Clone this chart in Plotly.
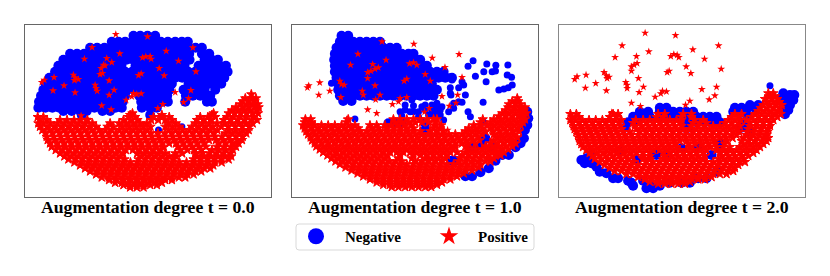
import plotly.graph_objects as go

# values, in panel units: (row y, [x, x, ...])
NEG_0_ROWS = [
    (62, [355, 375, 397, 420]),
    (80, [290, 310, 330, 352, 372, 395, 415, 437, 458, 480, 500, 518]),
    (98, [225, 246, 268, 289, 310, 331, 352, 373, 394, 415, 436, 457, 478, 499, 520, 541, 560]),
    (116, [165, 186, 207, 228, 249, 270, 291, 312, 333, 354, 375, 396, 417, 438, 459, 480, 501, 522, 560, 582]),
    (134, [145, 166, 187, 208, 229, 250, 271, 292, 313, 334, 355, 376, 397, 418, 439, 460, 481, 502, 523, 568, 590, 608]),
    (152, [130, 151, 172, 193, 214, 235, 256, 277, 298, 319, 361, 382, 403, 424, 445, 466, 487, 508, 550, 571, 592, 613, 632]),
    (170, [120, 141, 162, 183, 204, 225, 246, 267, 288, 309, 330, 351, 372, 393, 414, 435, 456, 477, 498, 519, 540, 561, 582, 603, 624, 637]),
    (188, [103, 124, 145, 166, 187, 208, 229, 250, 270, 291, 312, 333, 354, 375, 396, 417, 438, 459, 480, 501, 522, 543, 564, 585, 606, 627]),
    (206, [92, 113, 134, 155, 176, 197, 218, 239, 260, 281, 302, 323, 344, 365, 386, 407, 428, 449, 470, 520, 541, 562, 583, 604, 618]),
    (224, [85, 106, 127, 148, 169, 190, 211, 232, 253, 274, 295, 316, 337, 358, 379, 400, 421, 442, 463, 505, 526, 547, 568, 600]),
    (242, [78, 99, 120, 141, 162, 183, 204, 225, 246, 267, 288, 309, 330, 372, 393, 414, 435, 456, 512, 533, 555, 570, 585]),
    (260, [72, 93, 114, 135, 155, 176, 197, 218, 239, 260, 281, 302, 323, 378, 399, 420, 441, 458, 510, 575, 590]),
    (278, [70, 91, 112, 133, 154, 175, 196, 217, 238, 259, 280, 301, 320, 380, 405, 425]),
    (288, [145, 170, 195, 215, 262, 285]),
    (300, [200, 405]),
]
NEG_0_X = [430, 500]
NEG_0_Y = [345, 335]
POS_0_ROWS = [
    (238, [708]),
    (250, [690, 710, 722]),
    (259, [682, 700, 718]),
    (268, [675, 695, 712, 727]),
    (277, [662, 682, 700, 718, 730]),
    (286, [650, 668, 686, 704, 725]),
    (295, [352, 595, 640, 658, 676, 694, 712, 728]),
    (300, [345, 440, 590]),
    (306, [68, 85, 340, 360, 415, 440, 462, 555, 578, 600, 635, 655, 675, 695, 715]),
    (315, [75, 96, 135, 156, 177, 197, 217, 325, 346, 367, 408, 429, 450, 471, 545, 566, 587, 625, 646, 667, 688, 709, 725]),
    (325, [70, 85, 106, 127, 148, 169, 190, 210, 232, 285, 312, 333, 354, 375, 395, 460, 482, 540, 561, 582, 605, 628, 650, 671, 692, 712]),
    (335, [75, 96, 117, 138, 159, 180, 201, 222, 243, 277, 295, 322, 343, 364, 385, 406, 450, 471, 492, 530, 551, 572, 593, 618, 639, 660, 681, 702]),
    (345, [82, 104, 125, 146, 167, 188, 209, 230, 252, 270, 290, 312, 333, 354, 375, 396, 460, 481, 502, 522, 543, 564, 585, 606, 640, 661, 682, 700]),
    (355, [92, 113, 134, 155, 176, 197, 218, 239, 260, 281, 302, 323, 344, 365, 386, 407, 428, 449, 470, 491, 512, 533, 554, 575, 596, 630, 651, 672, 693]),
    (365, [95, 116, 137, 158, 179, 200, 221, 242, 263, 284, 305, 326, 347, 368, 389, 410, 431, 452, 473, 494, 515, 536, 557, 578, 599, 620, 641, 662, 682]),
    (375, [98, 119, 140, 161, 182, 203, 224, 245, 266, 287, 308, 329, 350, 371, 392, 413, 434, 455, 476, 497, 518, 539, 560, 581, 602, 623, 644, 665, 680]),
    (385, [105, 126, 147, 168, 189, 210, 231, 252, 273, 294, 315, 336, 357, 378, 399, 420, 441, 462, 483, 504, 525, 546, 567, 610, 631, 652, 670]),
    (395, [110, 131, 152, 173, 194, 215, 236, 257, 278, 299, 320, 341, 362, 383, 404, 425, 446, 488, 509, 530, 551, 572, 605, 626, 647, 662]),
    (405, [122, 143, 164, 185, 206, 227, 248, 269, 290, 311, 332, 353, 374, 395, 416, 437, 495, 516, 537, 558, 590, 611, 632, 653]),
    (415, [135, 156, 177, 198, 219, 240, 261, 282, 303, 324, 366, 387, 408, 429, 450, 480, 501, 540, 561, 582, 603, 624, 645]),
    (424, [148, 169, 190, 211, 232, 253, 274, 295, 316, 378, 399, 420, 441, 462, 483, 545, 566, 587, 608, 629, 648]),
    (433, [160, 181, 202, 223, 244, 265, 286, 307, 328, 370, 391, 412, 433, 454, 475, 535, 556, 577, 598, 619, 640]),
    (442, [178, 199, 220, 241, 262, 283, 304, 325, 346, 367, 388, 409, 430, 451, 472, 493, 514, 535, 556, 577, 598, 619]),
    (451, [195, 216, 237, 258, 279, 300, 321, 342, 363, 384, 405, 426, 447, 468, 489, 510, 531, 552, 573, 594]),
    (460, [210, 231, 252, 273, 294, 315, 336, 357, 378, 399, 420, 441, 462, 483, 504, 525, 546, 567, 585]),
    (469, [225, 246, 267, 288, 309, 330, 351, 372, 393, 414, 435, 456, 477, 498, 519, 540, 558]),
    (478, [243, 264, 285, 306, 327, 348, 369, 390, 411, 432, 453, 474, 495, 516, 535]),
    (487, [260, 281, 302, 323, 344, 365, 386, 407, 428, 449, 470, 491, 510]),
    (495, [282, 303, 324, 345, 366, 387, 408, 429, 450, 470]),
    (503, [300, 320, 340, 360, 380, 400, 420, 440]),
    (510, [325, 345, 365, 385, 405, 425]),
    (517, [345, 365, 385]),
]
POS_0_X = [302, 397, 231, 533, 453, 314, 208, 275, 382, 392, 405, 408, 490, 290, 265, 270, 258, 432, 542, 262, 255, 378, 370, 447, 117, 88, 80, 175, 180, 190, 178, 282, 147, 240, 243, 246, 297, 114, 180, 282, 355, 350, 365, 378, 527, 480, 520, 505, 333, 260, 288, 443, 428, 198, 216]
POS_0_Y = [58, 65, 97, 98, 108, 116, 132, 130, 128, 125, 124, 132, 138, 142, 150, 152, 160, 160, 170, 175, 178, 176, 181, 182, 187, 195, 202, 180, 188, 193, 196, 197, 212, 210, 220, 228, 225, 227, 233, 240, 235, 245, 238, 236, 226, 232, 250, 262, 255, 272, 284, 268, 280, 302, 312]

NEG_1_ROWS = [
    (62, [170, 190]),
    (80, [165, 185, 205, 225, 245, 265, 285]),
    (98, [155, 175, 195, 215, 235, 255, 275, 295, 315, 335]),
    (116, [150, 170, 190, 210, 230, 250, 270, 290, 310, 330, 350, 370, 385]),
    (134, [148, 168, 188, 208, 228, 250, 270, 290, 310, 330, 350, 370, 390, 405]),
    (152, [150, 170, 190, 210, 230, 250, 270, 290, 310, 330, 350, 370, 390, 410, 425]),
    (170, [150, 170, 190, 210, 230, 250, 270, 290, 310, 330, 350, 370, 390, 410, 435, 455, 475]),
    (188, [155, 175, 195, 215, 235, 255, 275, 295, 315, 335, 355, 375, 395, 415, 435, 460, 480, 500]),
    (206, [160, 180, 200, 220, 240, 260, 280, 300, 320, 340, 360, 380, 400, 420, 440]),
    (224, [160, 180, 200, 220, 240, 260, 280, 300, 320, 340, 360, 380, 400, 420, 440, 455]),
    (242, [165, 185, 205, 225, 245, 265, 285, 305, 325, 345, 365, 385, 405, 425, 445]),
    (258, [175, 200]),
    (290, [725]),
    (310, [728]),
    (325, [310, 330, 350, 420]),
    (330, [725]),
    (345, [420, 718]),
    (370, [600, 715]),
    (385, [590, 705]),
    (397, [555, 570, 690, 620]),
    (420, [670, 650]),
    (437, [500, 510, 630]),
    (460, [610]),
    (472, [585]),
    (484, [560, 540]),
]
NEG_1_X = [563, 548, 604, 631, 667, 620, 630, 570, 595, 665, 678, 602, 530, 520, 495, 497, 540, 640, 655, 668, 680, 593, 520, 505, 548, 555, 595, 210, 380, 385, 360, 345, 375, 350, 400, 420, 440, 455, 470, 490, 465, 475, 430, 400, 450, 140, 490, 500, 535, 495, 530, 505, 420, 440, 455, 410, 385, 360, 450, 465, 440]
NEG_1_Y = [137, 154, 147, 151, 150, 170, 168, 184, 170, 180, 187, 200, 200, 218, 218, 240, 240, 225, 222, 218, 210, 262, 260, 280, 290, 305, 322, 312, 255, 272, 285, 290, 290, 302, 290, 270, 270, 265, 275, 290, 300, 315, 300, 305, 295, 205, 185, 195, 210, 235, 262, 265, 285, 285, 280, 275, 290, 270, 310, 285, 300]
POS_1_ROWS = [
    (250, [695]),
    (259, [680, 698]),
    (268, [670, 690, 705]),
    (277, [668, 688, 705, 718]),
    (286, [660, 680, 700, 715]),
    (295, [650, 670, 690, 708, 722]),
    (304, [640, 660, 680, 700, 715]),
    (313, [62, 78, 190, 325, 345, 365, 385, 405, 425, 445, 455, 592, 625, 645, 665, 685, 705, 718]),
    (322, [60, 80, 185, 330, 350, 370, 390, 410, 430, 450, 585, 615, 635, 655, 675, 695, 712]),
    (331, [55, 70, 90, 110, 130, 150, 170, 190, 210, 255, 275, 300, 318, 338, 358, 378, 450, 468, 565, 585, 605, 625, 645, 665, 685, 705]),
    (340, [60, 80, 100, 120, 140, 160, 180, 200, 220, 260, 280, 305, 325, 345, 365, 385, 445, 465, 550, 570, 590, 615, 635, 655, 675, 695]),
    (349, [65, 85, 105, 125, 145, 165, 185, 205, 225, 245, 265, 285, 305, 325, 345, 365, 385, 405, 435, 455, 475, 540, 560, 580, 600, 622, 642, 662, 682, 700]),
    (358, [70, 90, 110, 130, 150, 170, 190, 210, 230, 250, 270, 290, 310, 330, 350, 370, 390, 410, 430, 450, 470, 490, 510, 530, 550, 570, 590, 625, 645, 665, 685]),
    (367, [78, 98, 118, 138, 158, 178, 198, 218, 238, 258, 278, 298, 318, 338, 358, 378, 398, 418, 438, 458, 478, 498, 518, 538, 558, 578, 635, 655, 675, 695]),
    (376, [82, 102, 122, 142, 162, 182, 202, 222, 242, 262, 282, 302, 322, 342, 362, 382, 402, 422, 442, 462, 482, 502, 522, 542, 562, 582, 625, 645, 665, 685]),
    (385, [90, 110, 130, 150, 170, 190, 210, 230, 250, 270, 290, 310, 330, 350, 370, 390, 410, 430, 450, 470, 490, 510, 530, 550, 570, 615, 635, 655, 675, 690]),
    (394, [95, 115, 135, 155, 175, 195, 215, 235, 255, 275, 295, 315, 335, 355, 375, 395, 415, 435, 455, 475, 495, 510, 540, 600, 620, 640, 660, 680]),
    (403, [105, 125, 145, 165, 185, 205, 225, 245, 265, 285, 305, 325, 345, 365, 385, 405, 425, 445, 465, 485, 505, 550, 570, 590, 610, 630, 650, 668]),
    (412, [115, 135, 155, 175, 195, 215, 235, 255, 275, 295, 315, 335, 355, 375, 395, 415, 435, 455, 475, 495, 515, 540, 560, 580, 600, 620, 640, 655]),
    (421, [128, 148, 168, 188, 208, 228, 248, 268, 288, 308, 345, 385, 405, 425, 445, 465, 485, 530, 550, 570, 590, 610, 630, 645]),
    (430, [140, 160, 180, 200, 220, 240, 260, 280, 300, 340, 380, 420, 440, 460, 480, 525, 545, 565, 585, 605, 625]),
    (439, [152, 172, 192, 212, 232, 252, 272, 292, 312, 332, 350, 390, 410, 430, 450, 470, 520, 540, 560, 580, 600, 615]),
    (448, [165, 185, 205, 225, 245, 265, 285, 305, 325, 345, 365, 385, 405, 425, 445, 465, 485, 505, 525, 545, 565, 585]),
    (457, [182, 202, 222, 242, 262, 282, 302, 322, 342, 362, 382, 402, 422, 442, 462, 482, 502, 522, 542, 562, 580]),
    (466, [200, 220, 240, 260, 280, 300, 320, 340, 360, 380, 400, 420, 440, 460, 480, 500, 520, 540, 560]),
    (475, [218, 238, 258, 278, 298, 318, 338, 358, 378, 398, 418, 438, 458, 478, 498, 518, 535]),
    (484, [235, 255, 275, 295, 315, 335, 355, 375, 395, 415, 435, 455, 475, 495, 515]),
    (493, [255, 275, 295, 315, 335, 355, 375, 395, 415, 435, 455, 475, 495]),
    (502, [275, 295, 315, 335, 355, 375, 395, 415, 435, 455, 470]),
    (509, [295, 315, 335, 355, 375, 395, 415, 435, 455]),
    (516, [320, 340, 360, 380, 400, 420, 438]),
]
POS_1_X = [386, 521, 441, 291, 219, 303, 197, 263, 373, 385, 395, 479, 280, 270, 258, 248, 420, 530, 435, 365, 357, 248, 72, 68, 105, 165, 170, 178, 270, 102, 135, 232, 235, 285, 168, 345, 365, 340, 470, 517, 272, 322, 512, 492, 248, 275, 432, 418, 185, 487]
POS_1_Y = [87, 118, 129, 80, 117, 135, 150, 148, 146, 143, 150, 157, 158, 162, 168, 172, 178, 187, 198, 192, 198, 190, 212, 218, 203, 198, 208, 210, 212, 240, 228, 228, 240, 240, 247, 250, 247, 260, 244, 240, 254, 268, 264, 273, 284, 295, 280, 291, 313, 345]

NEG_2_ROWS = [
    (235, [700]),
    (240, [720, 733]),
    (250, [695]),
    (255, [715, 730]),
    (270, [705, 720, 600, 625]),
    (278, [330, 350, 555, 575, 615]),
    (285, [700, 715, 590]),
    (290, [270, 295, 330, 350, 370, 390, 410, 430, 550, 570]),
    (298, [705, 590]),
    (305, [250, 275, 300, 335, 360, 380, 400, 420, 440, 460, 480, 500]),
    (322, [235, 255, 405, 420, 440, 465, 490, 510, 580]),
    (338, [225, 405, 415, 575, 590]),
    (350, [600]),
    (385, [510]),
    (400, [395, 445]),
    (410, [210]),
    (420, [320, 350, 485]),
    (420, [125]),
    (430, [110]),
    (435, [95, 260]),
    (445, [105, 125]),
    (455, [140]),
    (470, [150, 500]),
    (475, [170]),
    (490, [190, 445, 470, 205]),
    (497, [235, 280]),
    (503, [245, 360, 395, 420]),
    (512, [250, 300, 330]),
    (520, [290, 310]),
]
NEG_2_X = [660]
NEG_2_Y = [212]
POS_2_ROWS = [
    (235, [655, 670]),
    (244, [660, 675]),
    (252, [645, 665, 682]),
    (261, [650, 670, 688]),
    (270, [640, 660, 680, 695]),
    (279, [632, 652, 672, 690]),
    (288, [625, 645, 665, 685]),
    (297, [62, 80, 190, 205, 325, 345, 400, 425, 555, 575, 615, 635, 655, 675, 692]),
    (306, [68, 88, 180, 200, 320, 340, 395, 425, 545, 565, 605, 625, 645, 665, 682]),
    (315, [62, 78, 98, 118, 138, 158, 178, 198, 215, 258, 280, 300, 320, 340, 360, 380, 395, 435, 460, 535, 555, 572, 590, 610, 630, 650, 670]),
    (324, [68, 88, 108, 128, 148, 168, 188, 208, 250, 270, 290, 310, 330, 350, 370, 390, 430, 450, 470, 525, 545, 565, 600, 620, 640, 660]),
    (333, [72, 92, 112, 132, 152, 172, 192, 212, 255, 275, 295, 315, 335, 355, 375, 395, 425, 445, 465, 490, 510, 530, 550, 570, 600, 620, 640, 660]),
    (342, [75, 95, 115, 135, 155, 175, 195, 215, 260, 280, 300, 320, 340, 360, 380, 400, 420, 440, 460, 480, 500, 520, 540, 560, 595, 615, 635, 655]),
    (351, [80, 100, 120, 140, 160, 180, 200, 220, 240, 270, 290, 310, 330, 350, 370, 390, 410, 430, 450, 470, 490, 510, 530, 550, 568, 592, 612, 632, 652]),
    (360, [85, 105, 125, 145, 165, 185, 205, 225, 245, 265, 285, 305, 325, 345, 365, 385, 405, 425, 445, 465, 485, 505, 525, 545, 560, 590, 610, 630, 650]),
    (369, [88, 108, 128, 148, 168, 188, 208, 228, 248, 268, 288, 308, 328, 348, 368, 388, 408, 428, 448, 468, 488, 508, 528, 548, 582, 602, 622, 642, 655]),
    (378, [90, 110, 130, 150, 170, 190, 210, 230, 250, 270, 290, 310, 330, 350, 370, 390, 410, 430, 450, 470, 490, 530, 575, 595, 615, 635, 650]),
    (387, [95, 115, 135, 155, 175, 195, 215, 235, 255, 275, 295, 315, 335, 355, 375, 415, 435, 455, 475, 495, 525, 580, 600, 620, 640]),
    (396, [100, 120, 140, 160, 180, 200, 220, 240, 260, 280, 300, 320, 340, 360, 380, 420, 460, 480, 500, 520, 540, 570, 590, 610, 630]),
    (405, [110, 130, 150, 170, 190, 210, 230, 250, 270, 290, 310, 330, 350, 370, 390, 410, 430, 450, 470, 500, 520, 540, 560, 580, 600, 620]),
    (414, [120, 140, 160, 180, 200, 220, 240, 260, 280, 300, 340, 360, 380, 400, 420, 440, 460, 510, 530, 550, 570, 590, 610]),
    (423, [128, 148, 168, 188, 208, 228, 248, 280, 300, 345, 365, 385, 405, 425, 445, 465, 515, 535, 555, 575, 595]),
    (432, [135, 155, 175, 195, 215, 235, 280, 300, 340, 360, 380, 400, 420, 440, 460, 505, 520, 540, 560, 580]),
    (441, [150, 170, 190, 210, 230, 250, 290, 310, 330, 350, 370, 390, 410, 430, 450, 470, 490, 510, 530, 550, 570, 585]),
    (450, [165, 185, 205, 225, 245, 265, 285, 305, 325, 345, 365, 385, 405, 425, 445, 465, 485, 505, 525, 545, 565]),
    (459, [180, 200, 220, 240, 260, 280, 300, 320, 340, 360, 380, 400, 420, 440, 460, 480, 500, 520, 540, 555]),
    (468, [195, 215, 235, 255, 275, 295, 315, 335, 355, 375, 395, 415, 435, 455, 475, 495, 515, 535, 550]),
    (477, [230, 250, 270, 290, 310, 330, 350, 370, 390, 410, 430, 450, 470, 490, 510, 530]),
    (486, [265, 285, 305, 325, 345, 365, 385, 405, 425, 445, 465, 485]),
    (493, [285, 305, 325, 345, 365, 385, 405, 425, 445, 465]),
    (500, [300, 320, 340, 360, 380, 400, 420]),
    (506, [325, 345, 365, 385, 405]),
]
POS_2_X = [286, 377, 217, 506, 429, 297, 196, 260, 363, 372, 382, 387, 464, 262, 253, 245, 409, 514, 352, 358, 423, 245, 163, 170, 178, 172, 109, 82, 75, 266, 228, 232, 232, 138, 107, 281, 456, 500, 170, 268, 338, 333, 350, 495, 478, 316, 245, 272, 420, 407, 186, 205]
POS_2_Y = [54, 61, 92, 92, 104, 110, 127, 124, 124, 118, 120, 127, 132, 145, 150, 155, 155, 162, 172, 168, 175, 168, 172, 182, 186, 190, 180, 185, 193, 190, 202, 210, 220, 205, 219, 216, 223, 216, 227, 232, 228, 236, 230, 242, 254, 246, 264, 274, 258, 270, 292, 300]

TITLES = ["Augmentation degree t = 0.0", "Augmentation degree t = 1.0", "Augmentation degree t = 2.0"]
# the page adds an 8px body margin, so the figure is 8px smaller than the window
PAGE_MARGIN = 8
W, H = 830 - PAGE_MARGIN, 276 - PAGE_MARGIN
FRAME_LEFT = [25, 292, 559]
FRAME_WIDTH = 246
FRAME_TOP, FRAME_BOTTOM = 25, 197
FRAME_COLORS = ["#666666", "#666666", "#888888"]
X_RANGES = [[30, 767], [22, 757], [28, 765]]
Y_RANGE = [546, 30]
LEGEND_BOX = (296, 224, 534, 250)


def px(x):
    return (x - PAGE_MARGIN) / W


def py(y):
    return 1 - (y - PAGE_MARGIN) / H


def flatten(rows):
    xs, ys = [], []
    for y, row in rows:
        xs += row
        ys += [y] * len(row)
    return xs, ys


neg_rows = [flatten(NEG_0_ROWS), flatten(NEG_1_ROWS), flatten(NEG_2_ROWS)]
neg_loose = [(NEG_0_X, NEG_0_Y), (NEG_1_X, NEG_1_Y), (NEG_2_X, NEG_2_Y)]
pos_rows = [flatten(POS_0_ROWS), flatten(POS_1_ROWS), flatten(POS_2_ROWS)]
pos_loose = [(POS_0_X, POS_0_Y), (POS_1_X, POS_1_Y), (POS_2_X, POS_2_Y)]

fig = go.Figure()
for i in range(3):
    ax = "" if i == 0 else str(i + 1)
    # circles first, stars go over them. the thin outline closes the gaps between packed stars
    for data, color, symbol, size, edge in [(neg_rows[i], "#0000ff", "circle", 10, 0), (neg_loose[i], "#0000ff", "circle", 7, 0),
                                            (pos_rows[i], "#ff0000", "star", 7, 1), (pos_loose[i], "#ff0000", "star", 6, 0)]:
        fig.add_trace(go.Scatter(x=data[0], y=data[1], mode="markers", xaxis="x" + ax, yaxis="y" + ax,
                                 marker=dict(color=color, size=size, symbol=symbol, line=dict(color=color, width=edge)),
                                 showlegend=False))
    axis = dict(showgrid=False, zeroline=False, showticklabels=False, ticks="", showline=True, mirror=True,
                linecolor=FRAME_COLORS[i], linewidth=1)
    fig.update_layout({
        "xaxis" + ax: dict(axis, domain=[px(FRAME_LEFT[i]), px(FRAME_LEFT[i] + FRAME_WIDTH)], range=X_RANGES[i],
                           anchor="y" + ax),
        "yaxis" + ax: dict(axis, domain=[py(FRAME_BOTTOM), py(FRAME_TOP)], range=Y_RANGE, anchor="x" + ax),
    })
    fig.add_annotation(text="<b>" + TITLES[i] + "</b>", x=px(FRAME_LEFT[i] + FRAME_WIDTH / 2), y=py(207),
                       xref="paper", yref="paper", showarrow=False, xanchor="center", yanchor="middle",
                       font=dict(family="Liberation Serif", size=17.7, color="black"))

# empty traces only carry the legend entries
fig.add_trace(go.Scatter(x=[None], y=[None], mode="markers", name="Negative",
                         marker=dict(color="#0000ff", size=16, symbol="circle")))
fig.add_trace(go.Scatter(x=[None], y=[None], mode="markers", name="Positive",
                         marker=dict(color="#ff0000", size=14, symbol="star")))

# rounded legend box, the legend's own border has square corners
x0, y0, x1, y1 = px(LEGEND_BOX[0]), py(LEGEND_BOX[1]), px(LEGEND_BOX[2]), py(LEGEND_BOX[3])
rx, ry = 3 / W, 3 / H
fig.add_shape(type="path", xref="paper", yref="paper", line=dict(color="#d9d9d9", width=1),
              path=f"M {x0 + rx} {y0} L {x1 - rx} {y0} Q {x1} {y0} {x1} {y0 - ry} L {x1} {y1 + ry} "
                   f"Q {x1} {y1} {x1 - rx} {y1} L {x0 + rx} {y1} Q {x0} {y1} {x0} {y1 + ry} L {x0} {y0 - ry} "
                   f"Q {x0} {y0} {x0 + rx} {y0} Z")

fig.update_layout(
    width=W, height=H, margin=dict(l=0, r=0, t=0, b=0), paper_bgcolor="white", plot_bgcolor="white",
    legend=dict(orientation="h", x=px(287), y=py(220), xanchor="left", yanchor="top", bgcolor="rgba(0,0,0,0)",
                itemwidth=48, entrywidth=70, entrywidthmode="pixels",
                font=dict(family="Liberation Serif", size=15, color="black", weight="bold")),
)
fig.write_html("out.html")
